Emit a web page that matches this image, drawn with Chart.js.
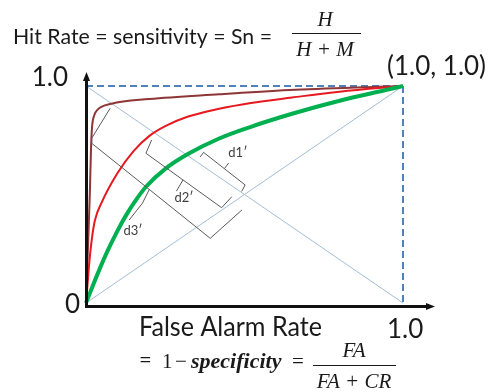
<!DOCTYPE html>
<html>
<head>
<meta charset="utf-8">
<script src="https://cdn.jsdelivr.net/npm/chart.js@4"></script>
<style>
  html, body { margin: 0; padding: 0; background: #fff; }
  #wrap { width: 498px; height: 391px; position: relative; }
</style>
</head>
<body>
<div id="wrap"><canvas id="rocChart"></canvas></div>
<script>
// ROC curves, false alarm rate -> hit rate
const brownFA  = [0, 0.006, 0.012, 0.016, 0.019, 0.026, 0.036, 0.08, 0.2, 0.42, 0.66, 1];
const brownHit = [0, 0.25, 0.5, 0.72, 0.81, 0.865, 0.89, 0.918, 0.94, 0.962, 0.983, 1];

const redFA  = [0, 0.004, 0.01, 0.018, 0.028, 0.05, 0.1, 0.15, 0.2, 0.25, 0.32, 0.42, 0.52, 0.65, 0.8, 1];
const redHit = [0, 0.07, 0.18, 0.29, 0.38, 0.465, 0.6, 0.7, 0.77, 0.815, 0.858, 0.895, 0.922, 0.947, 0.974, 1];

const greenFA  = [0, 0.034, 0.068, 0.1, 0.13, 0.16, 0.19, 0.25, 0.32, 0.42, 0.52, 0.65, 0.8, 0.96, 1];
const greenHit = [0, 0.125, 0.24, 0.335, 0.413, 0.48, 0.537, 0.618, 0.685, 0.758, 0.812, 0.872, 0.932, 0.986, 1];

// reference lines (chance diagonal and its mirror)
const diagFA  = [0, 1];
const diagHit = [0, 1];
const antiFA  = [0, 1];
const antiHit = [1, 0];

const tickLabels = ["0", "1.0"];
const cornerLabel = "(1.0, 1.0)";

const pts = (xs, ys) => xs.map((x, i) => ({ x: x, y: ys[i] }));

// distance braces d1', d2', d3' (data space, along the anti-diagonal)
const braces = [
  { label: "d1\u2032", at: [0.479, 0.691],
    path: [[0.360, 0.673], [0.371, 0.694], [0.502, 0.544], [0.491, 0.514]],
    tick: [[0.437, 0.620], [0.450, 0.645]] },
  { label: "d2\u2032", at: [0.309, 0.484],
    path: [[0.207, 0.751], [0.189, 0.690], [0.428, 0.439], [0.460, 0.490]],
    tick: [[0.306, 0.567], [0.285, 0.515]] },
  { label: "d3\u2032", at: [0.148, 0.333],
    path: [[0.076, 0.897], [0.018, 0.759], [0.018, 0.736], [0.392, 0.298], [0.492, 0.429]],
    tick: [[0.200, 0.524], [0.178, 0.46], [0.136, 0.382]] },
];

const rocDecor = {
  id: "rocDecor",
  afterDatasetsDraw(chart) {
    const { ctx, scales: { x, y } } = chart;
    ctx.save();
    ctx.strokeStyle = "#5a5a5a";
    ctx.lineWidth = 1;
    ctx.lineJoin = "round";
    braces.forEach((b) => {
      ctx.beginPath();
      b.path.forEach((p, i) => {
        const px = x.getPixelForValue(p[0]), py = y.getPixelForValue(p[1]);
        i ? ctx.lineTo(px, py) : ctx.moveTo(px, py);
      });
      ctx.stroke();
      ctx.beginPath();
      b.tick.forEach((p, i) => {
        const px = x.getPixelForValue(p[0]), py = y.getPixelForValue(p[1]);
        i ? ctx.lineTo(px, py) : ctx.moveTo(px, py);
      });
      ctx.stroke();
      ctx.fillStyle = "#404040";
      ctx.font = "13px Lato";
      ctx.textAlign = "center";
      ctx.textBaseline = "middle";
      ctx.fillText(b.label, x.getPixelForValue(b.at[0]), y.getPixelForValue(b.at[1]));
    });
    ctx.restore();
  },
  afterDraw(chart) {
    const { ctx, scales: { x, y } } = chart;
    const x0 = x.getPixelForValue(0) + 0.5;
    const yb = y.getPixelForValue(0) + 3.5;
    ctx.save();
    // axes with arrow heads
    ctx.strokeStyle = "#111";
    ctx.fillStyle = "#111";
    ctx.lineWidth = 3;
    ctx.beginPath();
    ctx.moveTo(x0, yb + 1.5);
    ctx.lineTo(x0, 79);
    ctx.moveTo(x0 - 1.5, yb);
    ctx.lineTo(428, yb);
    ctx.stroke();
    ctx.beginPath();
    ctx.moveTo(x0, 72);
    ctx.lineTo(x0 - 3.5, 81);
    ctx.lineTo(x0 + 3.5, 81);
    ctx.closePath();
    ctx.fill();
    ctx.beginPath();
    ctx.moveTo(435, yb);
    ctx.lineTo(426, yb - 3.5);
    ctx.lineTo(426, yb + 3.5);
    ctx.closePath();
    ctx.fill();

    ctx.fillStyle = "#1a1a1a";
    ctx.textBaseline = "alphabetic";
    // y-axis title with fraction
    ctx.textAlign = "left";
    ctx.font = "22px Lato";
    ctx.fillText("Hit Rate = sensitivity = Sn =", 13, 44, 259);
    ctx.font = "italic 21px 'Liberation Serif'";
    ctx.textAlign = "center";
    ctx.fillText("H", 325, 26);
    ctx.fillText("H + M", 325, 56, 67);
    ctx.fillRect(292, 33, 69, 1);

    // tick labels
    ctx.font = "26px Lato";
    ctx.textAlign = "right";
    ctx.fillText(tickLabels[1], 68, 86);
    ctx.fillText(tickLabels[0], 80, 313);
    ctx.textAlign = "left";
    ctx.fillText(tickLabels[1], 387, 338, 37);
    ctx.fillText(cornerLabel, 387, 75, 106);

    // x-axis title with fraction
    ctx.fillText("False Alarm Rate", 139, 336, 183);
    ctx.font = "22px Lato";
    ctx.fillText("=", 139, 367);
    ctx.font = "21px 'Liberation Serif'";
    ctx.fillText("1", 162, 368);
    ctx.fillText("\u2212", 175, 368);
    ctx.fillText("=", 292, 368);
    ctx.font = "italic bold 22px 'Liberation Serif'";
    ctx.fillText("specificity", 191, 368, 96);
    ctx.font = "italic 21px 'Liberation Serif'";
    ctx.textAlign = "center";
    ctx.fillText("FA", 354, 357);
    ctx.fillText("FA + CR", 354, 388, 79);
    ctx.fillRect(313, 365, 83, 1);
    ctx.restore();
  },
};

const line = (data, color, width, extra) => Object.assign({
  data: data,
  showLine: true,
  borderColor: color,
  backgroundColor: color,
  borderWidth: width,
  pointRadius: 0,
  clip: false,
}, extra || {});

new Chart(document.getElementById("rocChart"), {
  type: "scatter",
  data: {
    datasets: [
      line(pts(greenFA, greenHit), "#00B050", 4, { cubicInterpolationMode: "monotone", order: 1 }),
      line(pts(redFA, redHit), "#E5191F", 2, { cubicInterpolationMode: "monotone", order: 2 }),
      line(pts(brownFA, brownHit), "#8E3535", 2, { cubicInterpolationMode: "monotone", order: 3 }),
      line([{ x: 0, y: 1 }, { x: 1, y: 1 }], "#4F81BD", 2, { borderDash: [7, 4], order: 4 }),
      line([{ x: 1, y: 1 }, { x: 1, y: 0 }], "#4F81BD", 2, { borderDash: [7, 4], order: 5 }),
      line(pts(diagFA, diagHit), "#A3BDD5", 1, { order: 6 }),
      line(pts(antiFA, antiHit), "#A3BDD5", 1, { order: 7 }),
    ],
  },
  options: {
    responsive: true,
    maintainAspectRatio: false,
    animation: false,
    layout: { padding: { left: 86, right: 95, top: 86, bottom: 88 } },
    plugins: { legend: { display: false }, tooltip: { enabled: false } },
    scales: {
      x: { type: "linear", min: 0, max: 1, display: false },
      y: { type: "linear", min: 0, max: 1, display: false },
    },
  },
  plugins: [rocDecor],
});
</script>
</body>
</html>
